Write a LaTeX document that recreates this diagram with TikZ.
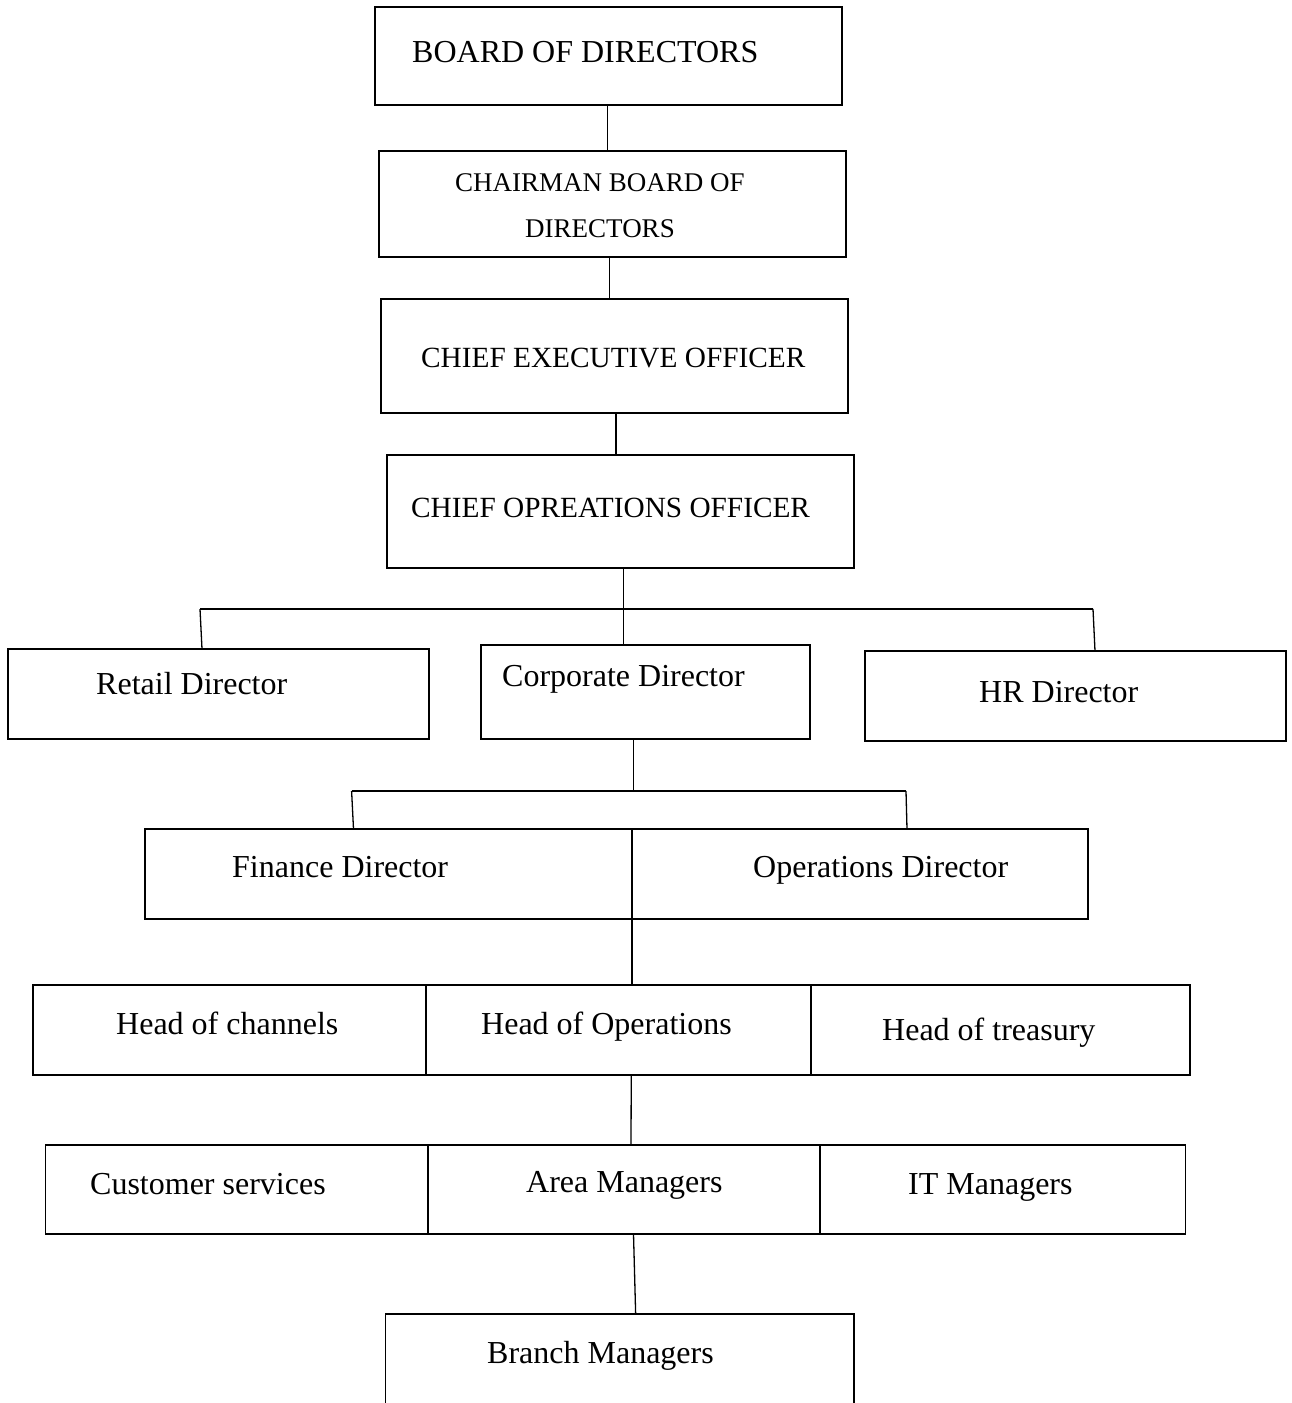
\documentclass[tikz,border=0pt]{standalone}
\usepackage{fontspec}
\setmainfont{Liberation Serif}
\begin{document}
\begin{tikzpicture}[x=1pt,y=-1pt,
  box/.style={draw,line width=1.6pt,inner sep=0pt,outer sep=0pt},
  conn/.style={line width=1.3pt},
  txt/.style={inner sep=0pt,anchor=base west,font=\fontsize{32}{38}\selectfont},
  txtc/.style={inner sep=0pt,anchor=base,font=\fontsize{27}{32}\selectfont},
  txtm/.style={inner sep=0pt,anchor=base west,font=\fontsize{29.3}{35}\selectfont}]
\clip (0,0) rectangle (1292,1403);
\fill[white] (0,0) rectangle (1292,1403);
% boxes
\node[box,minimum width=467pt,minimum height=98pt] (board) at (608.5,56) {};
\node[box,minimum width=467pt,minimum height=106pt] (chair) at (612.5,204) {};
\node[box,minimum width=467pt,minimum height=114pt] (ceo) at (614.5,356) {};
\node[box,minimum width=467pt,minimum height=113pt] (coo) at (620.5,511.5) {};
\node[box,minimum width=421pt,minimum height=90pt] (retail) at (218.5,694) {};
\node[box,minimum width=329pt,minimum height=94pt] (corp) at (645.5,692) {};
\node[box,minimum width=421pt,minimum height=90pt] (hr) at (1075.5,696) {};
\node[box,minimum width=487pt,minimum height=90pt] (fin) at (388.5,874) {};
\node[box,minimum width=456pt,minimum height=90pt] (ops) at (860,874) {};
\node[box,minimum width=393pt,minimum height=90pt] (hoc) at (229.5,1030) {};
\node[box,minimum width=384.5pt,minimum height=90pt] (hoo) at (618.25,1030) {};
\node[box,minimum width=379pt,minimum height=90pt] (hot) at (1000.5,1030) {};
\node[box,minimum width=382.4pt,minimum height=89pt] (cs) at (236.8,1189.5) {};
\node[box,minimum width=392pt,minimum height=89pt] (am) at (624,1189.5) {};
\node[box,minimum width=365.5pt,minimum height=89pt] (itm) at (1002.75,1189.5) {};
\node[box,minimum width=468.1pt,minimum height=116pt] (branch) at (619.65,1372) {};
% texts
\node[txt] (tboard) at (412,62) {BOARD OF DIRECTORS};
\node[txtc] (tchair1) at (600,191) {CHAIRMAN BOARD OF};
\node[txtc] (tchair2) at (600,237) {DIRECTORS};
\node[txtm] (tceo) at (421,367) {CHIEF EXECUTIVE OFFICER};
\node[txtm] (tcoo) at (411,517) {CHIEF OPREATIONS OFFICER};
\node[txt] (tretail) at (96,694) {Retail Director};
\node[txt] (tcorp) at (502,686) {Corporate Director};
\node[txt] (thr) at (979,702) {HR Director};
\node[txt] (tfin) at (232,877) {Finance Director};
\node[txt] (tops) at (753,877) {Operations Director};
\node[txt] (thoc) at (116,1034) {Head of channels};
\node[txt] (thoo) at (481,1034) {Head of Operations};
\node[txt] (thot) at (882,1040) {Head of treasury};
\node[txt] (tcs) at (90,1194) {Customer services};
\node[txt] (tam) at (526,1192) {Area Managers};
\node[txt] (titm) at (908,1194) {IT Managers};
\node[txt] (tbranch) at (487,1363) {Branch Managers};
% connectors
\draw[conn] ([xshift=-1pt]board.south) -- ([xshift=-5pt]chair.north);
\draw[conn] ([xshift=-3pt]chair.south) -- ([xshift=-5pt]ceo.north);
\draw[conn] ([xshift=1.5pt]ceo.south) -- ([xshift=-4.5pt]coo.north);
\coordinate (bus1) at (623.5,609);
\coordinate (b1l) at (200,609);
\coordinate (b1r) at (1093,609);
\draw[conn] (coo.south -| bus1) -- (corp.north -| bus1);
\draw[conn] (b1l) -- (b1r);
\draw[conn] (b1l) -- ([xshift=194pt]retail.north west);
\draw[conn] (b1r) -- ([xshift=230pt]hr.north west);
\coordinate (b2m) at (633.5,791);
\coordinate (b2l) at (351.6,791);
\coordinate (b2r) at (906,791);
\draw[conn] (corp.south -| b2m) -- (b2m);
\draw[conn] (b2l) -- (b2r);
\draw[conn] (b2l) -- ([xshift=208.5pt]fin.north west);
\draw[conn] (b2r) -- ([xshift=275pt]ops.north west);
\draw[conn] (fin.south east) -- (hoo.north -| fin.south east);
\draw[conn] ([xshift=13pt]hoo.south) -- ([xshift=7pt]am.north);
\draw[conn] ([xshift=9.5pt]am.south) -- ([xshift=16pt]branch.north);
\end{tikzpicture}
\end{document}
